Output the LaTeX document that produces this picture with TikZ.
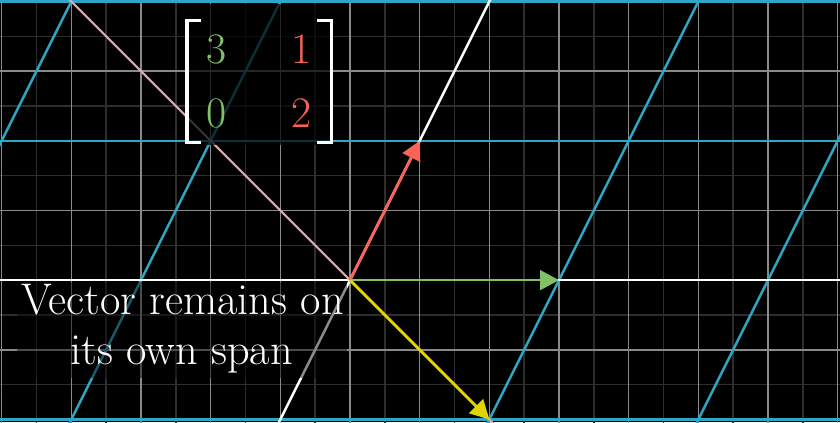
\documentclass[tikz,border=0pt]{standalone}
\usetikzlibrary{arrows.meta}
\definecolor{bgmajor}{HTML}{8A8A8A}
\definecolor{bgminor}{HTML}{2E2E2E}
\definecolor{tblue}{HTML}{2EA6C6}
\definecolor{tpink}{HTML}{E2A6AF}
\definecolor{tgreen}{HTML}{83C167}
\definecolor{tred}{HTML}{FC6255}
\definecolor{tyellow}{HTML}{E0D500}
\begin{document}
\begin{tikzpicture}[
  majorline/.style={draw=bgmajor, line width=0.6pt},
  minorline/.style={draw=bgminor, line width=0.6pt},
  tgridline/.style={draw=tblue, line width=1pt},
  axisline/.style={draw=white, line width=1pt},
  spanline/.style={draw=tpink, line width=0.85pt},
  vec/.style={line width=1.1pt, -{Triangle[length=0.27cm,width=0.28cm]}},
  bracketline/.style={draw=white, line width=1.4pt, line join=miter},
  entry/.style={inner sep=0pt, font=\fontsize{17.8}{20}\selectfont},
  caption/.style={inner sep=0pt, anchor=base, text=white, font=\fontsize{18.1}{20.4}\selectfont},
  dimbox/.style={fill=black, draw=none}
]
\useasboundingbox[fill=black] (-5.024,-2.038) rectangle (7.033,4.021);
\begin{scope}
\clip (-5.024,-2.038) rectangle (7.033,4.021);
% background grid
\foreach \x in {-4.5,-3.5,...,6.5} \draw[minorline] (\x,-2.1) -- (\x,4.1);
\foreach \y in {-1.5,-0.5,...,3.5} \draw[minorline] (-5.1,\y) -- (7.1,\y);
\foreach \x in {-5,...,7} \draw[majorline] (\x,-2.1) -- (\x,4.1);
\foreach \y in {-2,...,4} \draw[majorline] (-5.1,\y) -- (7.1,\y);
% transformed grid
\foreach \y in {-2,2,4} \draw[tgridline] (-5.1,\y) -- (7.1,\y);
\foreach \k in {-6,-3,3,6} \draw[tgridline] ({\k-1.05},-2.1) -- ({\k+2.05},4.1);
\draw[axisline] (-5.1,0) -- (7.1,0);
\draw[axisline] (-1.05,-2.1) -- (2.05,4.1);
% span of the eigenvector
\draw[spanline] (-4.1,4.1) -- (2.1,-2.1);
\end{scope}
% vectors
\coordinate (O) at (0,0);
\coordinate (gtip) at (3,0);
\coordinate (rtip) at (1,2);
\coordinate (ytip) at (2,-2);
\draw[vec, tgreen] (O) -- (gtip);
\draw[vec, tred] (O) -- (rtip);
\draw[vec, tyellow] (O) -- (ytip);
% matrix
\fill[dimbox, fill opacity=0.72] (-2.368,1.939) rectangle (-0.243,3.964);
\draw[bracketline] (-2.143,3.730) -- (-2.339,3.730) -- (-2.339,1.972) -- (-2.143,1.972);
\draw[bracketline] (-0.477,3.730) -- (-0.267,3.730) -- (-0.267,1.972) -- (-0.477,1.972);
\node[entry, text=tgreen] (a11) at (-1.923,3.317) {3};
\node[entry, text=tred] (a12) at (-0.702,3.317) {1};
\node[entry, text=tgreen] (a21) at (-1.923,2.399) {0};
\node[entry, text=tred] (a22) at (-0.702,2.399) {2};
% caption
\fill[dimbox, fill opacity=0.45] (-4.78,-1.406) rectangle (-0.042,-0.03);
\node[caption] (t1) at (-2.404,-0.487) {Vector remains on};
\node[caption] (t2) at (-2.415,-1.205) {its own span};
\end{tikzpicture}
\end{document}
